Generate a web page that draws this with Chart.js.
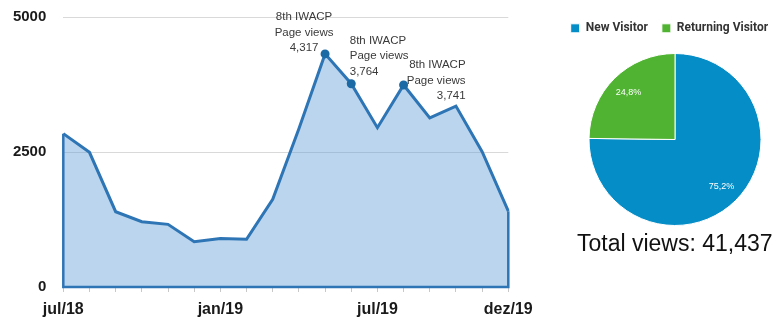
<!DOCTYPE html>
<html>
<head>
<meta charset="utf-8">
<script src="https://cdn.jsdelivr.net/npm/chart.js@4/dist/chart.umd.min.js"></script>
<style>
  html, body { margin: 0; padding: 0; background: #fff; overflow: hidden; }
  body { width: 776px; height: 318px; position: relative; }
  #views { position: absolute; left: 0; top: 0; }
  #visitors { position: absolute; left: 550px; top: 0; }
  #total {
    position: absolute; left: 577px; top: 232px;
    font: 23px/23px "Liberation Sans", Arial, sans-serif; color: #111; white-space: nowrap;
  }
</style>
</head>
<body>
<canvas id="views" width="545" height="318"></canvas>
<canvas id="visitors" width="250" height="240"></canvas>
<div id="total"></div>

<script>
// monthly page views, jul/18 .. dez/19
const months = ['jul/18', 'ago/18', 'set/18', 'out/18', 'nov/18', 'dez/18',
                'jan/19', 'fev/19', 'mar/19', 'abr/19', 'mai/19', 'jun/19',
                'jul/19', 'ago/19', 'set/19', 'out/19', 'nov/19', 'dez/19'];
const views = [2840, 2494, 1394, 1210, 1160, 840, 900, 883, 1624, 2930,
               4317, 3764, 2950, 3741, 3130, 3350, 2506, 1404];
const shownMonths = ['jul/18', 'jan/19', 'jul/19', 'dez/19'];
const yTicks = [0, 2500, 5000];

// event markers
const eventIdx = [10, 11, 13];
const eventName = '8th IWACP';

// visitor split (%)
const visitorTypes = ['New Visitor', 'Returning Visitor'];
const visitorShare = [75.2, 24.8];

const lineBlue = '#2e75b6';
const fmt = n => n.toLocaleString('en-US');

document.getElementById('total').textContent =
    'Total views: ' + fmt(views.reduce((a, b) => a + b, 0));

// outline round the filled area + the event labels
const areaPlugin = {
    id: 'areaOutline',
    afterDatasetsDraw(chart) {
        const ctx = chart.ctx;
        const pts = chart.getDatasetMeta(0).data;
        const y0 = chart.scales.y.getPixelForValue(0);
        const first = pts[0], last = pts[pts.length - 1];
        ctx.save();
        ctx.strokeStyle = lineBlue;
        ctx.lineWidth = 2.5;
        ctx.beginPath();
        ctx.moveTo(first.x, first.y);
        ctx.lineTo(first.x, y0);
        ctx.lineTo(last.x, y0);
        ctx.lineTo(last.x, last.y);
        ctx.stroke();

        // label placement for each event: align, dx, dy of first line
        const place = [
            {align: 'center', dx: -21, dy: -37},
            {align: 'left', dx: -1.5, dy: -43},
            {align: 'right', dx: 62, dy: -20}
        ];
        ctx.font = '11.5px "Liberation Sans", Arial, sans-serif';
        ctx.fillStyle = '#3a3a3a';
        ctx.textBaseline = 'middle';
        eventIdx.forEach((idx, k) => {
            const p = pts[idx];
            const pl = place[k];
            const lines = [eventName, 'Page views', fmt(views[idx])];
            ctx.textAlign = pl.align;
            lines.forEach((t, i) => {
                ctx.fillText(t, p.x + pl.dx, p.y + pl.dy + i * 15.5);
            });
        });
        ctx.restore();
    }
};

new Chart(document.getElementById('views'), {
    type: 'line',
    data: {
        labels: months,
        datasets: [{
            data: views,
            borderColor: lineBlue,
            borderWidth: 3,
            backgroundColor: 'rgba(91,155,213,0.42)',
            fill: 'origin',
            tension: 0,
            pointRadius: c => eventIdx.includes(c.dataIndex) ? 4.5 : 0,
            pointBackgroundColor: '#1b6aa5',
            pointBorderColor: '#1b6aa5',
            pointBorderWidth: 0
        }]
    },
    options: {
        responsive: false,
        animation: false,
        devicePixelRatio: 1,
        layout: { padding: { top: 17, right: 36.7, bottom: 0, left: 0 } },
        plugins: { legend: { display: false }, tooltip: { enabled: false } },
        scales: {
            x: {
                offset: false,
                border: { display: false },
                grid: { display: true, drawOnChartArea: false, drawTicks: true, tickLength: 5, color: '#c8c8c8' },
                ticks: {
                    autoSkip: false,
                    maxRotation: 0,
                    padding: 8,
                    color: '#1a1a1a',
                    font: { family: '"Liberation Sans", Arial, sans-serif', size: 16, weight: 'bold' },
                    callback: function (v) {
                        const l = this.getLabelForValue(v);
                        return shownMonths.includes(l) ? l : '';
                    }
                },
                afterFit: s => { s.height = 31; }
            },
            y: {
                min: 0,
                max: 5000,
                border: { display: false },
                grid: { color: '#d9d9d9', drawTicks: false },
                afterBuildTicks: s => { s.ticks = yTicks.map(v => ({ value: v })); },
                ticks: {
                    padding: 17,
                    color: '#1a1a1a',
                    font: { family: '"Liberation Sans", Arial, sans-serif', size: 15, weight: 'bold' },
                    callback: v => String(v)
                },
                afterFit: s => {
                    s.width = 63.3;
                    // tick padding is horizontal here, keep it out of the vertical room
                    s.paddingTop = 9;
                    s.paddingBottom = 9;
                }
            }
        }
    },
    plugins: [areaPlugin]
});

// percent labels inside the pie slices
const pieLabels = {
    id: 'pieLabels',
    afterDatasetsDraw(chart) {
        const ctx = chart.ctx;
        const ds = chart.data.datasets[0];
        ctx.save();
        ctx.font = '9px "Liberation Sans", Arial, sans-serif';
        ctx.fillStyle = '#fff';
        ctx.textAlign = 'center';
        ctx.textBaseline = 'middle';
        chart.getDatasetMeta(0).data.forEach((arc, i) => {
            const a = arc.getProps(['x', 'y', 'startAngle', 'endAngle', 'outerRadius'], true);
            const mid = (a.startAngle + a.endAngle) / 2;
            const r = a.outerRadius * 0.77;
            const txt = ds.data[i].toFixed(1).replace('.', ',') + '%';
            ctx.fillText(txt, a.x + Math.cos(mid) * r, a.y + Math.sin(mid) * r);
        });
        ctx.restore();
    }
};

new Chart(document.getElementById('visitors'), {
    type: 'pie',
    data: {
        labels: visitorTypes,
        datasets: [{
            data: visitorShare,
            backgroundColor: ['#058DC7', '#50B432'],
            borderColor: '#ffffff',
            borderWidth: 1,
            radius: 86
        }]
    },
    options: {
        responsive: false,
        animation: false,
        devicePixelRatio: 1,
        layout: { padding: { top: 8.3, right: 6.7, bottom: 5.3, left: 6.7 } },
        plugins: {
            tooltip: { enabled: false },
            legend: {
                position: 'top',
                align: 'start',
                labels: {
                    boxWidth: 9,
                    boxHeight: 9,
                    padding: 14,
                    color: '#333',
                    font: { family: 'Roboto, sans-serif', size: 12, weight: 'bold' }
                }
            }
        }
    },
    plugins: [pieLabels]
});
</script>
</body>
</html>
